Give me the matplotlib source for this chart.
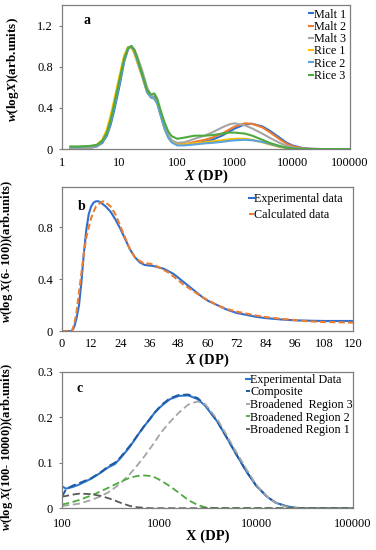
"""
Chain length distributions of starch, three panels (a, b, c).
"""
from matplotlib import pyplot as plt
from matplotlib.ticker import FixedLocator, FixedFormatter

plt.rcParams['font.family'] = ['Liberation Serif', 'DejaVu Serif']
plt.rcParams['mathtext.fontset'] = 'custom'
plt.rcParams['mathtext.it'] = 'Liberation Serif:italic:bold'
plt.rcParams['mathtext.rm'] = 'Liberation Serif:bold'
plt.rcParams['mathtext.bf'] = 'Liberation Serif:bold'
plt.rcParams['font.size'] = 9

# ----- panel a: six samples over the whole range
xa = [1.4, 2, 3, 4, 5, 6, 7, 8, 10, 12, 14, 16, 18, 20, 25, 30, 35, 40, 45, 50,
      60, 70, 80, 100, 130, 160, 200, 300, 400, 600, 800, 1000, 1500, 2000,
      3000, 4000, 6000, 8000, 10000, 15000, 20000, 30000, 50000, 100000]
malt1 = [0.0, 0.005, 0.01, 0.025, 0.06, 0.13, 0.24, 0.37, 0.62, 0.85, 0.97, 1.0,
         0.96, 0.88, 0.71, 0.56, 0.51, 0.51, 0.46, 0.37, 0.22, 0.13, 0.08, 0.045,
         0.04, 0.045, 0.05, 0.07, 0.09, 0.13, 0.17, 0.2, 0.24, 0.245, 0.22, 0.18,
         0.11, 0.06, 0.035, 0.01, 0.003, 0.0, 0.0, 0.0]
malt2 = [0.0, 0.005, 0.01, 0.03, 0.07, 0.16, 0.29, 0.43, 0.68, 0.89, 0.99, 0.99,
         0.94, 0.86, 0.7, 0.56, 0.51, 0.5, 0.45, 0.36, 0.21, 0.12, 0.075, 0.05,
         0.05, 0.055, 0.07, 0.09, 0.11, 0.15, 0.19, 0.22, 0.25, 0.245, 0.21, 0.165,
         0.095, 0.05, 0.028, 0.008, 0.002, 0.0, 0.0, 0.0]
malt3 = [0.0, 0.005, 0.01, 0.03, 0.07, 0.15, 0.27, 0.41, 0.66, 0.87, 0.98, 1.0,
         0.97, 0.91, 0.75, 0.6, 0.52, 0.49, 0.45, 0.37, 0.22, 0.13, 0.085, 0.06,
         0.065, 0.08, 0.1, 0.13, 0.16, 0.21, 0.24, 0.25, 0.23, 0.2, 0.15, 0.11,
         0.06, 0.03, 0.015, 0.004, 0.001, 0.0, 0.0, 0.0]
rice1 = [0.02, 0.02, 0.025, 0.04, 0.09, 0.19, 0.33, 0.47, 0.72, 0.91, 0.99, 0.99,
         0.93, 0.85, 0.69, 0.55, 0.5, 0.49, 0.44, 0.35, 0.2, 0.11, 0.07, 0.04,
         0.045, 0.05, 0.055, 0.065, 0.075, 0.085, 0.095, 0.1, 0.1, 0.09, 0.065,
         0.045, 0.02, 0.008, 0.003, 0.0, 0.0, 0.0, 0.0, 0.0]
rice2 = [0.02, 0.02, 0.025, 0.035, 0.07, 0.15, 0.27, 0.41, 0.66, 0.87, 0.98, 1.0,
         0.95, 0.87, 0.7, 0.55, 0.5, 0.49, 0.44, 0.35, 0.2, 0.11, 0.065, 0.035,
         0.035, 0.04, 0.045, 0.055, 0.06, 0.07, 0.08, 0.085, 0.09, 0.085, 0.07,
         0.05, 0.025, 0.012, 0.005, 0.001, 0.0, 0.0, 0.0, 0.0]
rice3 = [0.025, 0.025, 0.03, 0.04, 0.08, 0.16, 0.29, 0.43, 0.68, 0.88, 0.98, 1.0,
         0.96, 0.89, 0.72, 0.57, 0.53, 0.54, 0.49, 0.4, 0.26, 0.17, 0.125, 0.1,
         0.11, 0.12, 0.13, 0.13, 0.135, 0.15, 0.16, 0.16, 0.15, 0.13, 0.09, 0.06,
         0.03, 0.012, 0.005, 0.001, 0.0, 0.0, 0.0, 0.0]
names_a = ["Malt 1", "Malt 2", "Malt 3", "Rice 1", "Rice 2", "Rice 3"]
colors_a = ["#2F6FD0", "#ED7D31", "#A5A5A5", "#FFC000", "#5BA3DC", "#4EAA3E"]

# ----- panel b: short chains, linear axis
xb_exp = [0, 4, 5, 6, 7, 8, 9, 10, 11, 12, 13, 14, 15, 16, 18, 20, 22, 24, 26, 28,
          30, 32, 34, 36, 38, 40, 42, 44, 46, 48, 50, 54, 58, 60, 64, 68, 72, 76,
          80, 84, 90, 96, 102, 108, 114, 120]
yb_exp = [0.0, 0.0, 0.03, 0.1, 0.2, 0.38, 0.6, 0.78, 0.9, 0.96, 0.99, 1.0, 1.0,
          0.99, 0.96, 0.92, 0.86, 0.79, 0.71, 0.63, 0.57, 0.53, 0.51, 0.505, 0.5,
          0.49, 0.48, 0.46, 0.44, 0.41, 0.38, 0.32, 0.26, 0.235, 0.2, 0.165, 0.14,
          0.125, 0.11, 0.1, 0.09, 0.083, 0.08, 0.078, 0.078, 0.078]
xb_calc = [0, 4, 5, 6, 7, 8, 9, 10, 11, 12, 13, 14, 16, 17, 18, 20, 22, 24, 26, 28,
           30, 32, 34, 36, 38, 40, 42, 44, 46, 48, 50, 54, 58, 60, 64, 68, 72, 76,
           80, 84, 90, 96, 102, 108, 114, 120]
yb_calc = [0.0, 0.0, 0.05, 0.15, 0.3, 0.45, 0.6, 0.72, 0.8, 0.87, 0.92, 0.96, 0.99,
           1.0, 0.99, 0.96, 0.9, 0.81, 0.72, 0.63, 0.57, 0.54, 0.52, 0.52, 0.51,
           0.49, 0.47, 0.45, 0.42, 0.39, 0.36, 0.31, 0.26, 0.24, 0.2, 0.17, 0.15,
           0.135, 0.12, 0.108, 0.095, 0.085, 0.075, 0.07, 0.068, 0.065]

# ----- panel c: long chains, fitted regions
xc = [100, 110, 130, 150, 200, 250, 300, 350, 400, 500, 600, 700, 800, 900, 1000,
      1100, 1300, 1600, 2000, 2500, 3000, 4000, 5000, 6000, 8000, 10000, 13000,
      16000, 20000, 25000, 30000, 50000, 100000]
yc_exp = [0.048, 0.043, 0.047, 0.052, 0.065, 0.078, 0.09, 0.097, 0.11, 0.135,
          0.16, 0.18, 0.195, 0.21, 0.22, 0.228, 0.24, 0.247, 0.248, 0.24, 0.225,
          0.19, 0.155, 0.125, 0.08, 0.05, 0.025, 0.012, 0.005, 0.001, 0.0, 0.0, 0.0]
yc_comp = [0.025, 0.042, 0.05, 0.055, 0.066, 0.079, 0.092, 0.1, 0.112, 0.137,
           0.16, 0.18, 0.196, 0.21, 0.221, 0.23, 0.242, 0.249, 0.25, 0.242, 0.227,
           0.19, 0.155, 0.125, 0.08, 0.05, 0.025, 0.012, 0.005, 0.001, 0.0, 0.0, 0.0]
yc_reg3 = [0.005, 0.006, 0.008, 0.01, 0.018, 0.026, 0.035, 0.045, 0.055, 0.075,
           0.095, 0.113, 0.13, 0.145, 0.16, 0.172, 0.19, 0.21, 0.228, 0.235,
           0.228, 0.195, 0.16, 0.13, 0.085, 0.052, 0.025, 0.012, 0.004, 0.001, 0.0,
           0.0, 0.0]
yc_reg2 = [0.008, 0.01, 0.014, 0.018, 0.028, 0.037, 0.045, 0.052, 0.058, 0.067,
           0.071, 0.072, 0.071, 0.068, 0.063, 0.058, 0.048, 0.034, 0.018, 0.007,
           0.002, 0.0, 0.0, 0.0, 0.0, 0.0, 0.0, 0.0, 0.0, 0.0, 0.0, 0.0, 0.0]
yc_reg1 = [0.025, 0.027, 0.03, 0.032, 0.031, 0.027, 0.022, 0.017, 0.012, 0.005,
           0.002, 0.001, 0.0, 0.0, 0.0, 0.0, 0.0, 0.0, 0.0, 0.0, 0.0, 0.0, 0.0,
           0.0, 0.0, 0.0, 0.0, 0.0, 0.0, 0.0, 0.0, 0.0, 0.0]

fig = plt.figure(figsize=(3.76, 5.5), dpi=100)
ax_a = fig.add_axes([0.165, 0.729, 0.766, 0.262])
ax_b = fig.add_axes([0.165, 0.398, 0.774, 0.262])
ax_c = fig.add_axes([0.165, 0.076, 0.774, 0.248])


def style(ax, xpad):
    for s in ax.spines.values():
        s.set_color("#7f7f7f")
        s.set_linewidth(0.9)
    ax.tick_params(axis="y", length=2.5, width=0.8, color="#7f7f7f", labelsize=9, pad=4)
    ax.tick_params(axis="x", length=0, labelsize=9, pad=xpad)


def legend(ax, x, y, spacing):
    ax.legend(loc="upper right", bbox_to_anchor=(x, y), frameon=False,
              handlelength=0.35, handletextpad=0.05, labelspacing=spacing,
              fontsize=8.7, borderaxespad=0, borderpad=0)


# a
for ys, n, c in zip([malt1, malt2, malt3, rice1, rice2, rice3], names_a, colors_a):
    ax_a.plot(xa, ys, color=c, lw=1.5, label=n)
ax_a.set_xscale("log")
ax_a.set_xlim(1, 100000)
ax_a.set_ylim(0, 1.4)
ax_a.xaxis.set_major_locator(FixedLocator([1, 10, 100, 1000, 10000, 100000]))
ax_a.xaxis.set_major_formatter(FixedFormatter(["1", "10", "100", "1000", "10000", "100000"]))
ax_a.xaxis.set_minor_locator(FixedLocator([]))
ax_a.set_yticks([0, 0.4, 0.8, 1.2])
ax_a.set_yticklabels(["0", "0.4", "0.8", "1.2"])
ax_a.set_xlabel("$X$ (DP)", fontsize=10.5, fontweight="bold", labelpad=-1)
ax_a.set_ylabel("$w$(log$X$)(arb.units)", fontsize=9.5, fontweight="bold")
ax_a.yaxis.set_label_coords(-0.142, 0.55)
ax_a.text(0.075, 0.87, "a", transform=ax_a.transAxes, fontsize=10, fontweight="bold")
style(ax_a, 6)
legend(ax_a, 0.985, 0.975, 0.02)

# b
ax_b.plot(xb_exp, yb_exp, color="#2F6FD0", lw=1.5, label="Experimental data")
ax_b.plot(xb_calc, yb_calc, color="#ED7D31", lw=1.5, ls=(0, (3, 1.5)), label="Calculated data")
ax_b.set_xlim(0, 120)
ax_b.set_ylim(0, 1.11)
ax_b.set_xticks(range(0, 121, 12))
ax_b.set_yticks([0, 0.4, 0.8])
ax_b.set_yticklabels(["0", "0.4", "0.8"])
ax_b.set_xlabel("$X$ (DP)", fontsize=10.5, fontweight="bold", labelpad=1)
ax_b.set_ylabel("$w$(log $X$(6- 100))(arb.units)", fontsize=9, fontweight="bold")
ax_b.yaxis.set_label_coords(-0.16, 0.55)
ax_b.text(0.055, 0.84, "b", transform=ax_b.transAxes, fontsize=10, fontweight="bold")
style(ax_b, 5)
legend(ax_b, 0.965, 0.96, 0.35)

# c
ax_c.plot(xc, yc_exp, color="#2F78CF", lw=1.5, label="Experimental Data")
ax_c.plot(xc, yc_comp, color="#1F5AA0", lw=1.4, ls=(0, (4, 2)), label="Composite")
ax_c.plot(xc, yc_reg3, color="#A5A5A5", lw=1.3, ls=(0, (4, 2)), label="Broadened  Region 3")
ax_c.plot(xc, yc_reg2, color="#4EAA3E", lw=1.3, ls=(0, (4, 2)), label="Broadened Region 2")
ax_c.plot(xc, yc_reg1, color="#595959", lw=1.3, ls=(0, (4, 2)), label="Broadened Region 1")
ax_c.set_xscale("log")
ax_c.set_xlim(100, 100000)
ax_c.set_ylim(0, 0.3)
ax_c.xaxis.set_major_locator(FixedLocator([100, 1000, 10000, 100000]))
ax_c.xaxis.set_major_formatter(FixedFormatter(["100", "1000", "10000", "100000"]))
ax_c.xaxis.set_minor_locator(FixedLocator([]))
ax_c.set_yticks([0, 0.1, 0.2, 0.3])
ax_c.set_yticklabels(["0", "0.1", "0.2", "0.3"])
ax_c.set_xlabel("X (DP)", fontsize=10.5, fontweight="bold", labelpad=0)
ax_c.set_ylabel("$w$(log $X$(100- 10000))(arb.units)", fontsize=9, fontweight="bold")
ax_c.yaxis.set_label_coords(-0.16, 0.45)
ax_c.text(0.05, 0.85, "c", transform=ax_c.transAxes, fontsize=10, fontweight="bold")
style(ax_c, 7)
legend(ax_c, 1.0, 0.985, 0.05)

plt.savefig("out.png", dpi=100)
